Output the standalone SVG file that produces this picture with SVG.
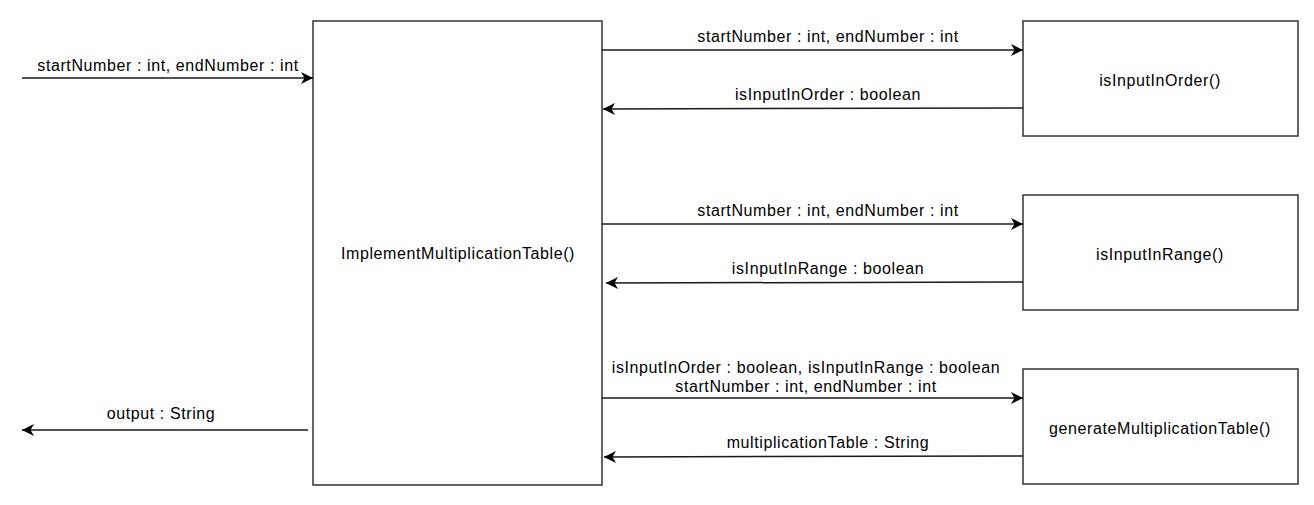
<svg xmlns="http://www.w3.org/2000/svg" width="1314" height="505" viewBox="0 0 1314 505">
<style>
.box{fill:#fff;stroke:#333;stroke-width:1.5}
.ln{fill:none;stroke:#1a1a1a;stroke-width:1.5}
text{font-family:"Liberation Sans",Arial,sans-serif;font-size:16px;letter-spacing:0.6px;fill:#000;text-anchor:middle}
</style>
<defs>
<marker id="ah" markerWidth="14" markerHeight="12" refX="12" refY="6" orient="auto" markerUnits="userSpaceOnUse">
<path d="M0,0 L12,6 L0,12 L3.5,6 z" fill="#000"/>
</marker>
</defs>
<rect width="1314" height="505" fill="#fff"/>
<g id="main"><rect class="box" x="313" y="21" width="289" height="464"/><text x="458" y="259">ImplementMultiplicationTable()</text></g>
<g id="order"><rect class="box" x="1023" y="21" width="275" height="115"/><text x="1160" y="86">isInputInOrder()</text></g>
<g id="range"><rect class="box" x="1023" y="195" width="275" height="115"/><text x="1160" y="260">isInputInRange()</text></g>
<g id="gen"><rect class="box" x="1023" y="369" width="275" height="115"/><text x="1160" y="434">generateMultiplicationTable()</text></g>
<g id="connectors">
<line class="ln" x1="22" y1="78" x2="313" y2="78" marker-end="url(#ah)"/>
<text x="168" y="71">startNumber : int, endNumber : int</text>
<line class="ln" x1="602" y1="50" x2="1023" y2="50" marker-end="url(#ah)"/>
<text x="828" y="42">startNumber : int, endNumber : int</text>
<line class="ln" x1="1023" y1="108" x2="603" y2="109" marker-end="url(#ah)"/>
<text x="828" y="100">isInputInOrder : boolean</text>
<line class="ln" x1="602" y1="224" x2="1023" y2="224" marker-end="url(#ah)"/>
<text x="828" y="216">startNumber : int, endNumber : int</text>
<line class="ln" x1="1023" y1="282" x2="606" y2="283" marker-end="url(#ah)"/>
<text x="828" y="274">isInputInRange : boolean</text>
<line class="ln" x1="602" y1="398" x2="1023" y2="398" marker-end="url(#ah)"/>
<text x="806" y="373">isInputInOrder : boolean, isInputInRange : boolean</text>
<text x="806" y="392">startNumber : int, endNumber : int</text>
<line class="ln" x1="1023" y1="456" x2="604" y2="457" marker-end="url(#ah)"/>
<text x="828" y="448">multiplicationTable : String</text>
<line class="ln" x1="308" y1="430" x2="22" y2="430" marker-end="url(#ah)"/>
<text x="161" y="419">output : String</text>
</g>
</svg>
